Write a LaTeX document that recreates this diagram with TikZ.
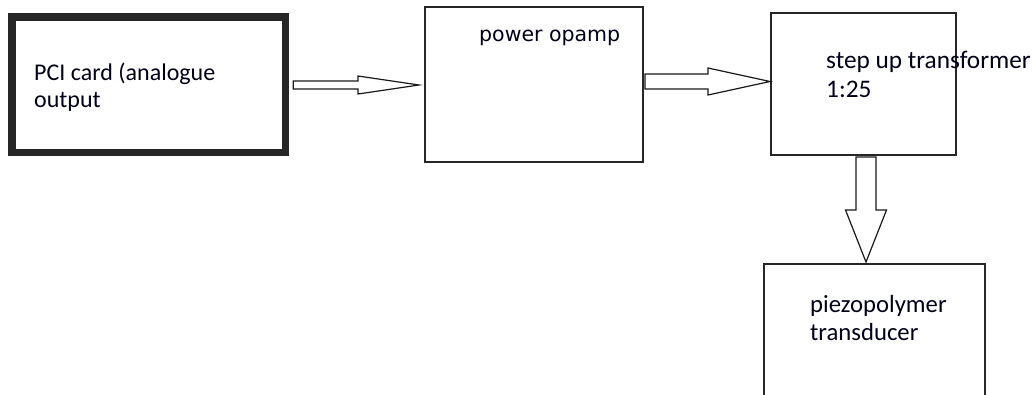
\documentclass[tikz,border=0pt]{standalone}
\usepackage{fontspec}
\setmainfont{Carlito}
\newfontfamily\opfont{DejaVu Sans}
\usetikzlibrary{calc}
\tikzset{
  box/.style={draw=black!85, line width=1.2pt, rectangle, inner sep=0pt, outer sep=0pt, fill=none},
  thickbox/.style={box, line width=7.5pt},
  lbl/.style={anchor=base west, inner sep=0pt, font=\fontsize{24.7}{29}\selectfont, text=black!90!blue},
  oplbl/.style={anchor=base west, inner sep=0pt, font=\opfont\fontsize{20.5}{25}\selectfont, text=black!90!blue},
  barrow/.style={draw=black!90, line width=1.2pt, fill=white, line join=miter},
}
\newcommand\harrow[5]{\draw[barrow] let \p1=(#1),\p2=(#2) in
  (\x1,\y1+#3) -- (\x2-#5,\y1+#3) -- (\x2-#5,\y1+#4) -- (\x2,\y2) --
  (\x2-#5,\y1-#4) -- (\x2-#5,\y1-#3) -- (\x1,\y1-#3) -- cycle;}
\newcommand\varrow[5]{\draw[barrow] let \p1=(#1),\p2=(#2) in
  (\x1-#3,\y1) -- (\x1-#3,\y2+#5) -- (\x1-#4,\y2+#5) -- (\x2,\y2) --
  (\x1+#4,\y2+#5) -- (\x1+#3,\y2+#5) -- (\x1+#3,\y1) -- cycle;}
\begin{document}
\begin{tikzpicture}[x=1pt,y=-1pt]
\useasboundingbox[fill=white] (0,0) rectangle (1036,394);
% boxes
\node[thickbox, minimum width=273.5pt, minimum height=135.5pt] (pci) at (148.5,84.5) {};
\node[box, minimum width=218pt, minimum height=155pt] (opamp) at (534,84.5) {};
\node[box, minimum width=185pt, minimum height=142pt] (trans) at (863.5,84) {};
\node[box, minimum width=221pt, minimum height=200pt] (piezo) at (874.5,364) {};
% labels
\node[lbl, font=\fontsize{24}{29}\selectfont] (pcitxt1) at (34,80) {PCI card (analogue};
\node[lbl, font=\fontsize{24}{29}\selectfont] (pcitxt2) at (34,107) {output};
\node[oplbl] (optxt) at (479,41) {power opamp};
\node[lbl, font=\fontsize{25.3}{29}\selectfont] (trtxt1) at (826,68) {step up transformer};
\node[lbl, font=\fontsize{25.3}{29}\selectfont] (trtxt2) at (826,97) {1:25};
\node[lbl] (pztxt1) at (810,312) {piezopolymer};
\node[lbl] (pztxt2) at (810,340) {transducer};
% arrow end points
\coordinate (a1s) at ($(pci.east |- 0,85)+(8,0)$);
\coordinate (a1e) at ($(opamp.west |- 0,85)+(-6,0)$);
\coordinate (a2s) at ($(opamp.east |- 0,81.5)+(2,0)$);
\coordinate (a2e) at ($(trans.west |- 0,81.5)+(-1,0)$);
\coordinate (a3s) at ($(trans.south -| 866,0)+(0,2)$);
\coordinate (a3e) at ($(piezo.north -| 866,0)+(0,-2)$);
% block arrows
\harrow{a1s}{a1e}{4pt}{9pt}{61pt}
\harrow{a2s}{a2e}{7.5pt}{13.5pt}{62pt}
\varrow{a3s}{a3e}{10pt}{20.5pt}{52pt}
\end{tikzpicture}
\end{document}
